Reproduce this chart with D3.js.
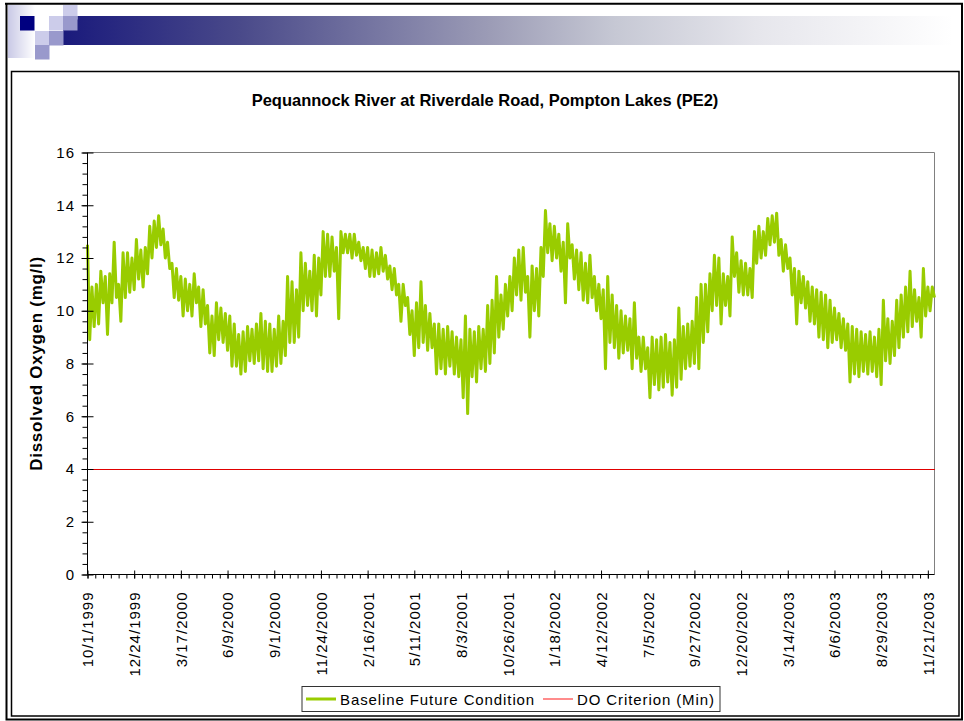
<!DOCTYPE html>
<html><head><meta charset="utf-8">
<script src="https://cdn.jsdelivr.net/npm/d3@7"></script>
<style>
html,body{margin:0;padding:0;background:#fff;}
svg{display:block;font-family:"Liberation Sans",Arial,sans-serif;}
</style></head><body>
<svg id="chart" width="964" height="721"></svg>
<script>
const chartTitle = "Pequannock River at Riverdale Road, Pompton Lakes (PE2)";
const yAxisTitle = "Dissolved Oxygen (mg/l)";
const seriesName = "Baseline Future Condition";
const criterionName = "DO Criterion (Min)";
const startDate = "10/1/1999";
const endDate = "12/3/2003";
const stepDays = 4;
// simulated DO, one value every 4 days (daily swings read as alternating highs and lows)
const doValues = [
 12.5,8.9, 10.9,9.4, 11.0,9.5, 11.5,10.3, 11.3,9.1, 11.4,10.3, 12.6,10.5, 11.0,9.6, 12.2,10.5, 12.2,10.7,
 12.0,10.8, 12.7,11.2, 12.3,10.9, 12.4,11.4, 13.2,12.0, 13.4,12.4, 13.6,12.5, 13.1,12.0, 12.6,11.6, 11.8,10.5,
 11.6,10.4, 11.3,9.8, 11.2,10.0, 11.0,9.8, 11.4,10.3, 10.9,9.4, 10.8,9.5, 10.2,8.4, 9.8,8.3, 10.3,8.9,
 10.1,8.8, 9.9,8.5, 9.8,7.9, 9.5,7.9, 9.1,7.6, 9.2,7.7, 9.4,8.1, 9.3,8.0, 9.5,8.1, 9.9,7.8,
 9.6,7.7, 9.5,7.7, 9.3,7.9, 9.8,8.0, 9.6,8.3, 11.3,8.8, 11.1,8.8, 10.8,9.0, 12.2,10.0, 11.8,10.2,
 11.5,10.0, 12.1,9.8, 12.0,10.6, 13.0,11.3, 12.9,11.3, 12.8,11.5, 12.4,9.7, 13.0,12.2, 12.9,12.2, 12.9,12.0,
 12.9,12.1, 12.6,11.9, 12.4,11.6, 12.4,11.3, 12.3,11.3, 12.2,11.4, 12.4,11.5, 12.1,11.2, 11.7,10.8, 11.6,10.6,
 11.0,9.6, 11.0,10.2, 10.5,9.1, 10.0,8.3, 10.3,8.6, 11.1,8.8, 10.2,8.5, 9.9,8.6, 9.5,7.6, 9.5,7.8,
 9.3,7.6, 9.4,7.9, 9.2,7.6, 9.0,7.5, 8.9,6.7, 9.8,6.1, 9.3,7.5, 9.2,7.3, 9.4,7.8, 9.3,7.7,
 10.2,8.0, 10.4,8.4, 11.3,9.0, 10.6,9.3, 11.0,9.8, 11.3,10.0, 12.0,10.6, 12.3,10.4, 12.4,10.7, 11.3,9.0,
 11.7,10.0, 11.6,9.8, 12.4,11.3, 13.8,12.2, 13.3,11.9, 13.2,12.0, 12.9,11.5, 12.6,10.3, 13.3,12.0, 12.5,11.2,
 12.3,10.8, 12.2,10.4, 11.8,10.3, 12.1,10.5, 11.3,10.0, 11.0,9.7, 10.8,7.8, 11.3,8.8, 10.6,8.6, 10.2,8.2,
 10.0,8.4, 9.8,8.5, 9.7,7.8, 10.3,8.2, 9.0,7.7, 9.0,7.8, 8.6,6.7, 9.0,7.2, 8.9,7.0, 9.0,7.1,
 9.1,7.3, 8.8,6.8, 8.9,7.1, 10.1,7.4, 9.4,7.8, 9.5,7.9, 9.6,8.0, 10.5,7.8, 11.0,8.8, 11.0,9.2,
 11.4,10.0, 12.1,10.2, 12.0,9.5, 11.4,10.2, 11.3,9.8, 12.8,11.3, 12.2,10.7, 11.9,10.6, 11.8,10.6, 11.6,10.5,
 13.0,11.8, 13.2,12.0, 13.0,12.1, 13.5,12.5, 13.6,12.6, 13.7,12.1, 12.7,11.5, 12.5,11.6, 12.0,10.6, 11.6,9.5,
 11.5,10.3, 11.3,10.1, 11.1,9.6, 10.9,9.5, 10.8,9.0, 10.7,8.9, 10.6,8.6, 10.4,8.8, 10.1,8.9, 9.9,8.6,
 9.7,8.5, 9.5,7.3, 9.4,7.6, 9.3,7.5, 9.2,7.7, 9.1,7.6, 9.2,7.7, 9.0,7.5, 9.3,7.2, 10.4,8.1,
 9.7,8.0, 9.6,8.3, 10.4,8.6, 10.6,9.0, 10.9,9.2, 11.5,9.4, 10.8,9.6, 10.5,9.0, 11.6,9.8, 10.9,10.0,
 10.9,10.5
];
const criterionValue = 4;
const yTickValues = [0,2,4,6,8,10,12,14,16];
const xTickLabels = ["10/1/1999","12/24/1999","3/17/2000","6/9/2000","9/1/2000","11/24/2000",
 "2/16/2001","5/11/2001","8/3/2001","10/26/2001","1/18/2002","4/12/2002","7/5/2002",
 "9/27/2002","12/20/2002","3/14/2003","6/6/2003","8/29/2003","11/21/2003"];

const parse = d3.utcParse("%m/%d/%Y");
const t0 = parse(startDate), t1 = parse(endDate);
const series = doValues.map((v,i)=>({date: d3.utcDay.offset(t0, i*stepDays), value: v}));

const svg = d3.select("#chart");
const W = 964, H = 721;
svg.append("rect").attr("width",W).attr("height",H).attr("fill","#fff");

// ----- header decoration -----
const defs = svg.append("defs");
const gBar = defs.append("linearGradient").attr("id","barGrad");
[[0,"#1a1a7c"],[0.2,"#4a4a8a"],[0.48,"#9c9cb6"],[0.62,"#c6c8d4"],[0.78,"#e6e6ec"],[1,"#ffffff"]]
 .forEach(([o,c])=>gBar.append("stop").attr("offset",o).attr("stop-color",c));
const gLeft = defs.append("linearGradient").attr("id","leftGrad");
[[0,"#c9c9e6"],[1,"#ffffff"]].forEach(([o,c])=>gLeft.append("stop").attr("offset",o).attr("stop-color",c));

const deco = svg.append("g");
deco.append("rect").attr("x",8).attr("y",5).attr("width",27).attr("height",53).attr("fill","url(#leftGrad)");
deco.append("rect").attr("x",63).attr("y",16).attr("width",890).attr("height",29).attr("fill","url(#barGrad)");
const sq = [[20,16,"#000080"],[63,5,"#ccccea"],[49,16,"#ccccea"],[63,16,"#9999cc"],[35,31,"#ccccea"],[49,31,"#9999cc"],[35,45,"#9999cc"]];
sq.forEach(([x,y,c])=>deco.append("rect").attr("x",x).attr("y",y).attr("width",14.5).attr("height",14.5).attr("fill",c));

// frames
svg.append("path").attr("d","M5,3.8 H962 V719.5 H6.5 V3.8").attr("fill","none").attr("stroke","#000").attr("stroke-width",2);
svg.append("rect").attr("x",11.5).attr("y",71.5).attr("width",947.5).attr("height",644.5)
  .attr("fill","none").attr("stroke","#000").attr("stroke-width",1.5);

// ----- chart -----
const L = 87.5, R = 934.5, T = 152.5, B = 574.5;
const x = d3.scaleUtc().domain([t0,t1]).range([L,R]);
const y = d3.scaleLinear().domain([0,16]).range([B,T]);

svg.append("path").attr("d",`M${L},${T} H${R} V${B}`).attr("fill","none").attr("stroke","#808080").attr("stroke-width",1);

svg.append("text").attr("x",485).attr("y",106).attr("text-anchor","middle")
  .attr("font-size",16.5).attr("font-weight","bold").text(chartTitle);
svg.append("text").attr("transform",`translate(42,${(T+B)/2}) rotate(-90)`).attr("text-anchor","middle")
  .attr("font-size",17).attr("font-weight","bold").attr("letter-spacing",0.7).text(yAxisTitle);

const line = d3.line().x(d=>x(d.date)).y(d=>y(d.value));
svg.append("path").datum(series).attr("d",line).attr("fill","none")
  .attr("stroke","#99cc00").attr("stroke-width",3).attr("stroke-linejoin","round");

svg.append("path").datum([t0,t1]).attr("d",d3.line().x(d=>x(d)).y(()=>y(criterionValue)+0.5))
  .attr("stroke","#e00000").attr("stroke-width",1).attr("fill","none").attr("shape-rendering","crispEdges");

// y axis
const yMinor = d3.range(0,16.001,0.4).map(v=>+v.toFixed(1));
const gyMinor = svg.append("g").attr("transform",`translate(${L},0)`)
  .call(d3.axisLeft(y).tickValues(yMinor).tickSize(5).tickFormat(""));
gyMinor.select(".domain").remove();
const gy = svg.append("g").attr("transform",`translate(${L},0)`)
  .call(d3.axisLeft(y).tickValues(yTickValues).tickSize(6).tickFormat(d3.format("d")));
gy.selectAll(".tick line").attr("x1",-6).attr("x2",6);
gy.select(".domain").attr("d",`M0,${T}V${B}`);
gy.selectAll(".tick text").attr("x",-12.5).attr("font-size",15).attr("letter-spacing",1)
  .attr("font-family","'Liberation Sans',Arial,sans-serif").attr("fill","#000");

// x axis
const xMajor = xTickLabels.map(parse);
const xMinor = d3.utcDay.range(t0, d3.utcDay.offset(t1,1), 14);
const gxMinor = svg.append("g").attr("transform",`translate(0,${B})`)
  .call(d3.axisBottom(x).tickValues(xMinor).tickSize(4).tickFormat(""));
gxMinor.select(".domain").remove();
const fmt = d => xTickLabels[xMajor.findIndex(m=>+m===+d)];
const gx = svg.append("g").attr("transform",`translate(0,${B})`)
  .call(d3.axisBottom(x).tickValues(xMajor).tickSize(4).tickFormat(fmt));
gx.selectAll(".tick line").attr("y1",-4).attr("y2",4);
gx.select(".domain").attr("d",`M${L},0H${R}`);
gx.selectAll(".tick text").attr("transform","rotate(-90)").attr("text-anchor","end")
  .attr("x",-17).attr("y",0).attr("dy","0.36em").attr("font-size",15).attr("letter-spacing",1)
  .attr("font-family","'Liberation Sans',Arial,sans-serif").attr("fill","#000");
svg.selectAll(".tick line, .domain").attr("stroke","#000");

// legend
const lg = svg.append("g");
lg.append("rect").attr("x",302).attr("y",686.5).attr("width",418).attr("height",25)
  .attr("fill","#fff").attr("stroke","#333").attr("stroke-width",1);
lg.append("line").attr("x1",306).attr("x2",336).attr("y1",699).attr("y2",699).attr("stroke","#99cc00").attr("stroke-width",3);
lg.append("text").attr("x",340).attr("y",704.5).attr("font-size",15).attr("letter-spacing",0.9).text(seriesName);
lg.append("line").attr("x1",543).attr("x2",573).attr("y1",699).attr("y2",699).attr("stroke","#ff6666").attr("stroke-width",1.5);
lg.append("text").attr("x",577).attr("y",704.5).attr("font-size",15).attr("letter-spacing",0.9).text(criterionName);
</script>
</body></html>
